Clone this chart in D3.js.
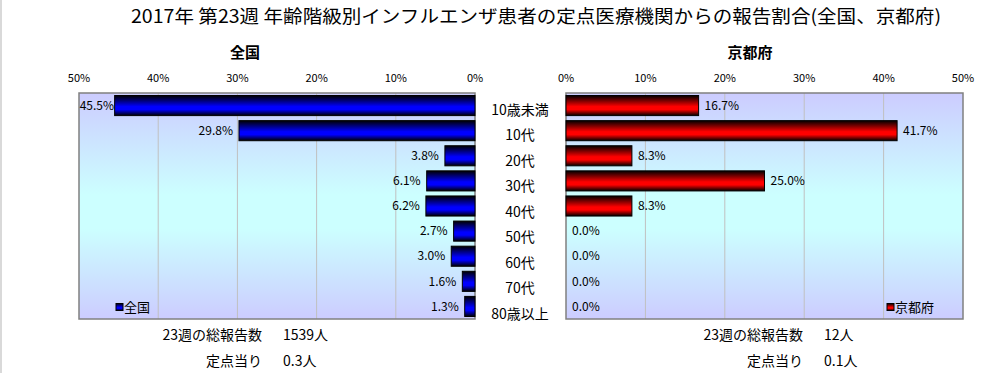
<!DOCTYPE html>
<html>
<head>
<meta charset="utf-8">
<script src="https://cdn.jsdelivr.net/npm/d3@7"></script>
<style>
  body { margin: 0; background: #fff; }
  text { font-family: "MS PGothic", "Noto Sans CJK JP", sans-serif; fill: #000; }
</style>
</head>
<body>
<div id="chart"></div>
<script>
const width = 1006;
const height = 373;

const ages = ['10歳未満', '10代', '20代', '30代', '40代', '50代', '60代', '70代', '80歳以上'];
const zenkoku = [45.5, 29.8, 3.8, 6.1, 6.2, 2.7, 3.0, 1.6, 1.3];
const kyoto = [16.7, 41.7, 8.3, 25.0, 8.3, 0.0, 0.0, 0.0, 0.0];
const ticks = [0, 10, 20, 30, 40, 50];
const title = '2017年 第23週 年齢階級別インフルエンザ患者の定点医療機関からの報告割合(全国、京都府)';
const summaryLeft = [['23週の総報告数', '1539人'], ['定点当り', '0.3人']];
const summaryRight = [['23週の総報告数', '12人'], ['定点当り', '0.1人']];

const svg = d3.select('#chart').append('svg').attr('width', width).attr('height', height);

// frame
svg.append('rect').attr('x', 0).attr('y', 0).attr('width', 2).attr('height', height).attr('fill', '#d9d9d9');

const defs = svg.append('defs');
function barGrad(id, c) {
    const g = defs.append('linearGradient').attr('id', id)
        .attr('x1', 0).attr('y1', 0).attr('x2', 0).attr('y2', 1);
    g.append('stop').attr('offset', '0%').attr('stop-color', '#000000');
    g.append('stop').attr('offset', '55%').attr('stop-color', c);
    g.append('stop').attr('offset', '70%').attr('stop-color', c);
    g.append('stop').attr('offset', '100%').attr('stop-color', '#000000');
}
barGrad('gBlue', '#0000ff');
barGrad('gRed', '#ff0000');
const bg = defs.append('linearGradient').attr('id', 'gBg')
    .attr('x1', 0).attr('y1', 0).attr('x2', 0).attr('y2', 1);
bg.append('stop').attr('offset', '0%').attr('stop-color', '#ccccff');
bg.append('stop').attr('offset', '45%').attr('stop-color', '#ccffff');
bg.append('stop').attr('offset', '60%').attr('stop-color', '#ccffff');
bg.append('stop').attr('offset', '100%').attr('stop-color', '#ccccff');

svg.append('text')
    .attr('x', 536).attr('y', 23)
    .attr('text-anchor', 'middle')
    .attr('font-size', 18)
    .attr('textLength', 810).attr('lengthAdjust', 'spacingAndGlyphs')
    .text(title);

const plotTop = 93, plotBottom = 319;
const y = d3.scaleBand().domain(ages).range([plotTop, plotBottom]).paddingInner(0.2).paddingOuter(0.1);
const yLabel = d3.scalePoint().domain(ages).range([110, 314]);

const xL = d3.scaleLinear().domain([0, 50]).range([475, 79]);
const xR = d3.scaleLinear().domain([0, 50]).range([566, 963]);

function panel(x, values, grad, name, titleX, summary, sumX, legendX) {
    const g = svg.append('g');
    const [a, b] = d3.extent(x.range());
    g.append('rect').attr('x', a).attr('y', plotTop).attr('width', b - a).attr('height', plotBottom - plotTop)
        .attr('fill', 'url(#gBg)');
    g.selectAll('line.grid').data(ticks.slice(1, -1)).join('line')
        .attr('class', 'grid')
        .attr('x1', d => x(d)).attr('x2', d => x(d))
        .attr('y1', plotTop).attr('y2', plotBottom)
        .attr('stroke', '#c0c0c0').attr('stroke-width', 1);
    g.append('rect').attr('x', a).attr('y', plotTop).attr('width', b - a).attr('height', plotBottom - plotTop)
        .attr('fill', 'none').attr('stroke', '#808080').attr('stroke-width', 1.5);

    g.selectAll('text.tick').data(ticks).join('text')
        .attr('class', 'tick')
        .attr('x', d => x(d)).attr('y', 82)
        .attr('text-anchor', 'middle').attr('font-size', 11)
        .text(d => d + '%');

    g.append('text').attr('x', titleX).attr('y', 58)
        .attr('text-anchor', 'middle').attr('font-size', 15).attr('font-weight', 'bold')
        .text(name);

    const data = values.map((v, i) => ({ age: ages[i], v }));
    g.selectAll('rect.bar').data(data.filter(d => d.v > 0)).join('rect')
        .attr('class', 'bar')
        .attr('x', d => Math.min(x(0), x(d.v)))
        .attr('y', d => y(d.age))
        .attr('width', d => Math.abs(x(d.v) - x(0)))
        .attr('height', y.bandwidth())
        .attr('fill', `url(#${grad})`)
        .attr('stroke', '#000').attr('stroke-width', 1);

    const left = x(50) < x(0);
    g.selectAll('text.val').data(data).join('text')
        .attr('class', 'val')
        .attr('x', d => left ? Math.max(x(d.v) - 6, x(50) + 35) : x(d.v) + 6)
        .attr('y', d => y(d.age) + y.bandwidth() / 2)
        .attr('dy', '0.35em')
        .attr('text-anchor', left ? 'end' : 'start')
        .attr('font-size', 12)
        .text(d => d.v.toFixed(1) + '%');

    // legend
    const lg = g.append('g').attr('transform', `translate(${legendX},307)`);
    lg.append('rect').attr('x', 0).attr('y', -3.5).attr('width', 7).attr('height', 7)
        .attr('fill', `url(#${grad})`).attr('stroke', '#000');
    lg.append('text').attr('x', 8).attr('y', 0).attr('dy', '0.35em')
        .attr('font-size', 13).text(name);

    // summary
    summary.forEach((s, i) => {
        g.append('text').attr('x', sumX).attr('y', 340 + i * 26)
            .attr('text-anchor', 'end').attr('font-size', 14).text(s[0]);
        g.append('text').attr('x', sumX + 21).attr('y', 340 + i * 26)
            .attr('font-size', 14).text(s[1]);
    });
}

panel(xL, zenkoku, 'gBlue', '全国', 245, summaryLeft, 262, 116);
panel(xR, kyoto, 'gRed', '京都府', 750, summaryRight, 803, 887);

svg.selectAll('text.cat').data(ages).join('text')
    .attr('class', 'cat')
    .attr('x', 520).attr('y', d => yLabel(d))
    .attr('dy', '0.35em')
    .attr('text-anchor', 'middle').attr('font-size', 14)
    .text(d => d);
</script>
</body>
</html>
